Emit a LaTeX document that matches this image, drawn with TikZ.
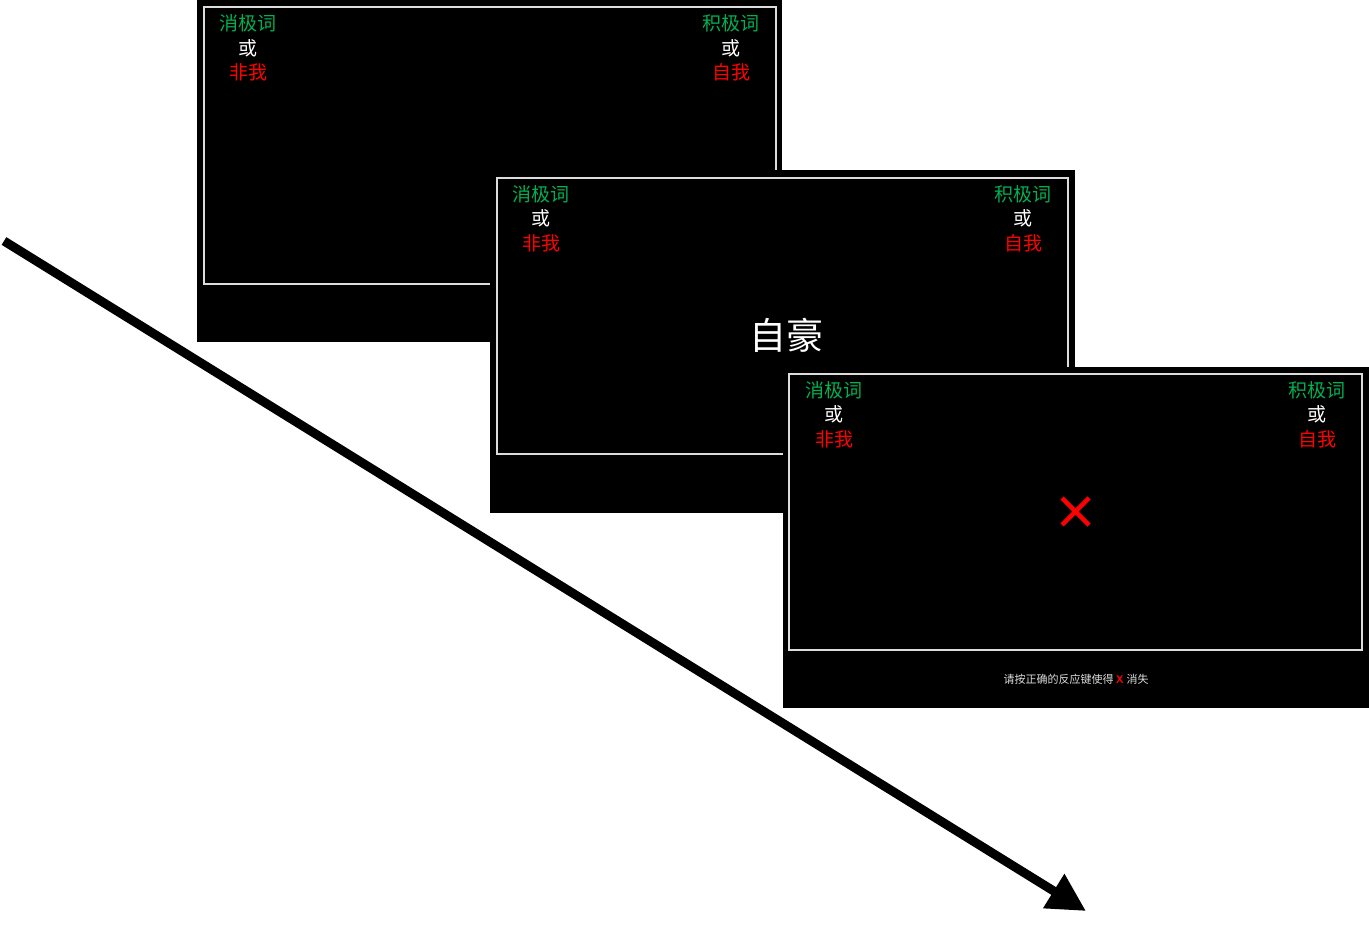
\documentclass[tikz,border=0pt]{standalone}
\usepackage{fontspec}
\newfontfamily\cjk{Noto Sans CJK SC}
\usetikzlibrary{arrows.meta}
\definecolor{posgreen}{RGB}{0,176,80}
\definecolor{framegray}{RGB}{220,220,220}
\begin{document}
\begin{tikzpicture}[x=1pt, y=-1pt, every node/.style={font=\cjk\fontsize{19}{19}\selectfont, inner sep=0pt},
  screen/.style={fill=black}, frame/.style={draw=framegray, line width=2pt},
  catword/.style={text=posgreen}, orword/.style={text=white}, selfword/.style={text=red},
  timearrow/.style={line width=9pt, -{Triangle[length=38pt,width=38pt]}}]
\useasboundingbox (0,0) rectangle (1369,941);
% time axis
\coordinate (tstart) at (4,241); \coordinate (tend) at (1086,911);
\draw[timearrow] (tstart) -- (tend);
% screen 1: categories only
\fill[screen] (197,0) rectangle (782,342); \draw[frame] (204,7) rectangle (776,284);
\node[catword] (s1neg) at (248,23) {消极词}; \node[orword] (s1or) at (248,48) {或}; \node[selfword] (s1non) at (248,72) {非我};
\node[catword] (s1pos) at (731,23) {积极词}; \node[orword] (s1or2) at (731,48) {或}; \node[selfword] (s1self) at (731,72) {自我};
% screen 2: stimulus
\fill[screen] (490,170) rectangle (1075,513); \draw[frame] (497,178) rectangle (1068,454);
\node[catword] (s2neg) at (541,194) {消极词}; \node[orword] (s2or) at (541,218) {或}; \node[selfword] (s2non) at (541,243) {非我};
\node[catword] (s2pos) at (1023,194) {积极词}; \node[orword] (s2or2) at (1023,218) {或}; \node[selfword] (s2self) at (1023,243) {自我};
\node[orword, font=\cjk\fontsize{37}{37}\selectfont] (s2stim) at (786,335) {自豪};
% screen 3: error feedback
\fill[screen] (783,367) rectangle (1369,708); \draw[frame] (789,374) rectangle (1362,650);
\node[catword] (s3neg) at (834,390) {消极词}; \node[orword] (s3or) at (834,414) {或}; \node[selfword] (s3non) at (834,439) {非我};
\node[catword] (s3pos) at (1317,390) {积极词}; \node[orword] (s3or2) at (1317,414) {或}; \node[selfword] (s3self) at (1317,439) {自我};
\draw[red, line width=4.5pt] (1062,498) -- (1089,525) (1062,525) -- (1089,498);
\node[text=framegray, font=\cjk\fontsize{11}{11}\selectfont] (s3hint) at (1076,679) {请按正确的反应键使得 {\color{red}\sffamily\bfseries X} 消失};
\end{tikzpicture}
\end{document}
